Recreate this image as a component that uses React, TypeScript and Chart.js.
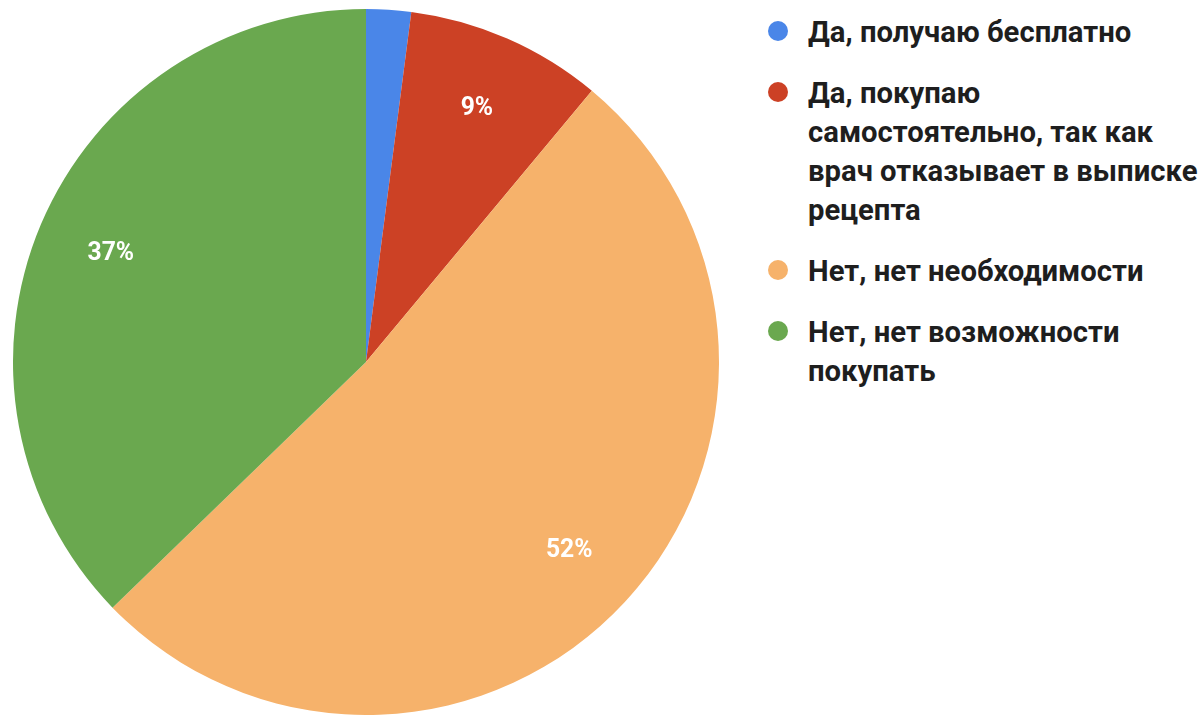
import React, { useEffect, useRef } from "react";
import { Chart, registerables } from "chart.js";

Chart.register(...registerables);

const categories: string[][] = [
  ["Да, получаю бесплатно"],
  ["Да, покупаю", "самостоятельно, так как", "врач отказывает в выписке", "рецепта"],
  ["Нет, нет необходимости"],
  ["Нет, нет возможности", "покупать"],
];
const values: number[] = [2.05, 9.0, 51.7, 37.25];
const colors: string[] = ["#4a86e8", "#cc4125", "#f6b26b", "#6aa84f"];

const FONT = "Roboto, 'Liberation Sans', sans-serif";

const labelPlugin = {
  id: "pctLabels",
  afterDatasetsDraw(chart: any) {
    const ctx = chart.ctx;
    const meta = chart.getDatasetMeta(0);
    const data = chart.data.datasets[0].data as number[];
    const total = data.reduce((a, b) => a + b, 0);
    ctx.save();
    ctx.fillStyle = "#ffffff";
    ctx.font = `bold 26px ${FONT}`;
    ctx.textAlign = "center";
    ctx.textBaseline = "middle";
    meta.data.forEach((arc: any, i: number) => {
      const pct = (data[i] / total) * 100;
      if (pct < 5) return;
      const { x, y, startAngle, endAngle, outerRadius } = arc.getProps(
        ["x", "y", "startAngle", "endAngle", "outerRadius"],
        true
      );
      const mid = (startAngle + endAngle) / 2;
      const r = outerRadius * 0.785;
      const px = x + Math.cos(mid) * r;
      const py = y + Math.sin(mid) * r;
      ctx.save();
      ctx.translate(px, py);
      ctx.scale(0.95, 1);
      ctx.fillText(`${Math.round(pct)}%`, 0, 0);
      ctx.restore();
    });
    ctx.restore();
  },
};

export default function App() {
  const ref = useRef<HTMLCanvasElement | null>(null);

  useEffect(() => {
    document.body.style.margin = "0";
    if (!ref.current) return;
    const chart = new Chart(ref.current, {
      type: "pie",
      data: {
        labels: categories.map((c) => c.join(" ")),
        datasets: [
          {
            data: values,
            backgroundColor: colors,
            borderWidth: 0,
          },
        ],
      },
      options: {
        animation: false,
        responsive: true,
        maintainAspectRatio: false,
        layout: { padding: 0 },
        plugins: {
          legend: { display: false },
          tooltip: { enabled: false },
        },
      },
      plugins: [labelPlugin],
    });
    return () => chart.destroy();
  }, []);

  return (
    <div style={{ position: "relative", width: 1200, height: 715, background: "#fff", overflow: "hidden" }}>
      <div style={{ position: "absolute", left: 13, top: 9, width: 706, height: 706 }}>
        <canvas ref={ref} />
      </div>
      <div style={{ position: "absolute", left: 766, top: 12, fontFamily: FONT, fontWeight: "bold", fontSize: 30, color: "#1e1e1e" }}>
        {categories.map((lines, i) => (
          <div key={i} style={{ position: "relative", marginBottom: 22, paddingLeft: 42 }}>
            <span
              style={{
                position: "absolute",
                left: 2,
                top: 9,
                width: 20,
                height: 20,
                borderRadius: "50%",
                background: colors[i],
              }}
            />
            {lines.map((l, j) => (
              <div key={j} style={{ lineHeight: "39px", whiteSpace: "nowrap", transform: "scaleX(0.975)", transformOrigin: "left center" }}>
                {l}
              </div>
            ))}
          </div>
        ))}
      </div>
    </div>
  );
}
